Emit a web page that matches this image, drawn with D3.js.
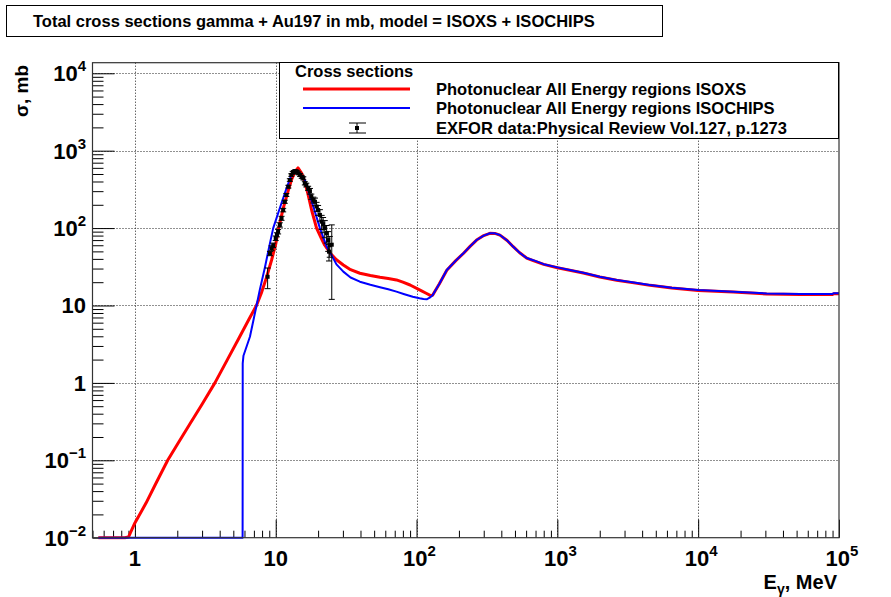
<!DOCTYPE html>
<html>
<head>
<meta charset="utf-8">
<script src="https://cdn.jsdelivr.net/npm/d3@7"></script>
<style>
  html, body { margin: 0; padding: 0; background: #fff; }
  svg { display: block; font-family: "Liberation Sans", Arial, Helvetica, sans-serif; }
</style>
</head>
<body>
<svg id="chart" width="891" height="597"></svg>
<script>
// ISOXS model: photon energy (MeV) and total cross section (mb)
const isoxsEnergy = [0.55, 0.85, 0.9, 1.0, 1.2, 1.4, 1.71, 2.0, 2.5, 3.0, 3.7, 4.5, 5.5, 6.5, 7.3, 7.9, 8.6, 9.35, 10.0, 10.5, 11.3, 12.3, 13.0, 13.7, 14.4, 15.3, 16.1, 16.9, 18.0, 19.5, 21.0, 22.3, 24.5, 27, 30.2, 34, 39.6, 47, 55, 63, 72, 80, 90, 106, 118, 125, 130, 145, 164, 190, 215, 240, 267, 300, 332, 360, 391, 440, 486, 540, 605, 674, 800, 1000, 1250, 1528, 2000, 2637, 3500, 4548, 6500, 10000, 17740, 30620, 52800, 90000, 92000, 100000];
const isoxsSigma  = [0.01, 0.01, 0.0102, 0.0155, 0.028, 0.049, 0.1, 0.16, 0.31, 0.53, 1.0, 1.94, 3.83, 6.8, 10, 14.4, 23, 38.7, 62, 100, 180, 310, 430, 535, 600, 510, 390, 280, 170, 100, 75, 60, 47, 39, 33.4, 29, 26.1, 24.4, 23.1, 22.3, 21.4, 20, 18.4, 15.8, 14.3, 13.5, 13.6, 19, 28.6, 38, 47, 58, 70, 80, 85.5, 85.3, 81, 69, 57.5, 48, 41, 38, 34, 30.8, 28.3, 26.3, 23.3, 21.2, 19.6, 18.2, 16.8, 15.6, 14.9, 14.1, 13.9, 13.9, 14.2, 14.2];

// ISOCHIPS model
const isochipsEnergy = [0.55, 5.82, 5.83, 5.9, 6.56, 7.31, 7.7, 8.38, 9.0, 9.6, 10.5, 11.6, 12.9, 13.4, 14.0, 14.9, 16.1, 17.9, 20.6, 23.0, 24.9, 27, 30.2, 34, 39.6, 47, 55, 63, 72, 82, 94, 105, 112, 118, 124, 130, 145, 164, 190, 215, 240, 267, 300, 332, 360, 391, 440, 486, 540, 605, 674, 800, 1000, 1250, 1528, 2000, 2637, 3500, 4548, 6500, 10000, 17740, 30620, 52800, 90000, 92000, 100000];
const isochipsSigma  = [0.01, 0.01, 1.79, 2.24, 3.95, 10, 15.8, 31, 58, 100, 164, 282, 485, 560, 545, 500, 418, 231, 100, 57.5, 45, 34, 27.4, 23, 20.3, 18.5, 17.2, 16.2, 15.1, 14, 13.0, 12.4, 12.1, 12.0, 12.6, 13.6, 19, 28.8, 38, 47.2, 58, 70.2, 80, 85.7, 85.5, 81.5, 69, 57.5, 48, 41, 38.5, 34.2, 31.1, 28.5, 26.5, 23.5, 21.4, 19.8, 18.4, 17, 15.8, 15.1, 14.3, 14.1, 14.1, 14.4, 14.4];

// EXFOR measurements: energy (MeV), cross section (mb), error (mb)
const exforEnergy = [8.76, 9.1, 9.35, 9.6, 10.0, 10.2, 10.4, 10.7, 11.0, 11.3, 11.6, 11.9, 12.3, 12.6, 12.9, 13.2, 13.5, 13.8, 14.1, 14.5, 14.9, 15.3, 15.7, 16.1, 16.5, 17.0, 17.5, 17.9, 18.5, 19.0, 19.5, 20.0, 20.6, 21.2, 21.7, 22.3, 23.0, 23.6, 24.2, 23.9, 25.0];
const exforSigma  = [23.5, 47, 55, 60, 74, 82, 90, 110, 134, 171, 219, 268, 343, 418, 485, 520, 535, 545, 535, 510, 485, 460, 440, 379, 360, 327, 300, 255, 231, 219, 190, 171, 148, 121, 112, 100, 86, 70, 60, 49.6, 61];
const exforError  = [7, 3, 4, 4, 5, 5, 6, 7, 8, 9, 10, 12, 14, 16, 18, 20, 20, 20, 20, 20, 20, 20, 20, 18, 20, 20, 25, 20, 20, 25, 25, 25, 25, 25, 25, 25, 22, 20, 18, 12, 49];

// Axis decades and their labels (base, exponent)
const xTickValues = [1, 10, 100, 1000, 10000, 100000];
const xTickLabels = [["1", ""], ["10", ""], ["10", "2"], ["10", "3"], ["10", "4"], ["10", "5"]];
const yTickValues = [0.01, 0.1, 1, 10, 100, 1000, 10000];
const yTickLabels = [["10", "\u22122"], ["10", "\u22121"], ["1", ""], ["10", ""], ["10", "2"], ["10", "3"], ["10", "4"]];

const titleText = "Total cross sections gamma + Au197 in mb, model = ISOXS + ISOCHIPS";
const legendHeader = "Cross sections";
const legendLabels = ["Photonuclear All Energy regions ISOXS", "Photonuclear All Energy regions ISOCHIPS", "EXFOR data:Physical Review Vol.127, p.1273"];

const svg = d3.select("#chart");
const frame = { left: 92.5, right: 839, top: 62.7, bottom: 537.7 };

const x = d3.scaleLog().domain([0.5, 1e5]).range([frame.left, frame.right]);
const y = d3.scaleLog().domain([0.01, 1.37e4]).range([frame.bottom, frame.top]);
const yc = v => y(Math.max(v, 0.01));

svg.append("rect").attr("width", 891).attr("height", 597).attr("fill", "#fff");

// title box
svg.append("rect").attr("x", 6.5).attr("y", 5.5).attr("width", 656).attr("height", 31)
  .attr("fill", "#fff").attr("stroke", "#000").attr("stroke-width", 1);
svg.append("text").attr("x", 33).attr("y", 27).attr("font-size", 16.5).attr("font-weight", "bold")
  .text(titleText);

// grid
const grid = svg.append("g").attr("stroke", "#222").attr("stroke-width", 1).attr("stroke-dasharray", "1,2");
grid.selectAll("line.gx").data(xTickValues.filter(v => v < 1e5)).join("line")
  .attr("x1", d => Math.round(x(d)) + 0.5).attr("x2", d => Math.round(x(d)) + 0.5)
  .attr("y1", frame.top).attr("y2", frame.bottom);
grid.selectAll("line.gy").data(yTickValues.filter(v => v > 0.01)).join("line")
  .attr("y1", d => Math.round(y(d)) + 0.5).attr("y2", d => Math.round(y(d)) + 0.5)
  .attr("x1", frame.left).attr("x2", frame.right);

// axes ticks (inside the frame)
const xMinor = x.ticks(60).filter(v => !xTickValues.some(t => Math.abs(t - v) / t < 1e-6));
const yMinor = y.ticks(60).filter(v => !yTickValues.some(t => Math.abs(t - v) / t < 1e-6));

function styleAxis(g) {
  g.select(".domain").remove();
  g.selectAll(".tick line").attr("stroke", "#000").attr("stroke-width", 1);
  g.selectAll(".tick text").remove();
}
svg.append("g").attr("transform", `translate(0,${frame.bottom})`)
  .call(d3.axisBottom(x).tickValues(xTickValues).tickSize(-18).tickFormat(() => "")).call(styleAxis);
svg.append("g").attr("transform", `translate(0,${frame.bottom})`)
  .call(d3.axisBottom(x).tickValues(xMinor).tickSize(-7).tickFormat(() => "")).call(styleAxis);
svg.append("g").attr("transform", `translate(${frame.left},0)`)
  .call(d3.axisLeft(y).tickValues(yTickValues).tickSize(-22).tickFormat(() => "")).call(styleAxis);
svg.append("g").attr("transform", `translate(${frame.left},0)`)
  .call(d3.axisLeft(y).tickValues(yMinor).tickSize(-11).tickFormat(() => "")).call(styleAxis);

// tick labels
const labelFont = 22, supFont = 15;
const xl = svg.append("g").attr("font-size", labelFont).attr("font-weight", "bold").attr("text-anchor", "middle");
xTickValues.forEach((v, i) => {
  const t = xl.append("text").attr("x", x(v) + (xTickLabels[i][1] ? 3 : 0)).attr("y", 566);
  t.append("tspan").text(xTickLabels[i][0]);
  if (xTickLabels[i][1]) t.append("tspan").attr("dy", -10).attr("font-size", supFont).text(xTickLabels[i][1]);
});
const yl = svg.append("g").attr("font-size", labelFont).attr("font-weight", "bold").attr("text-anchor", "end");
yTickValues.forEach((v, i) => {
  const t = yl.append("text").attr("x", 86).attr("y", y(v) + 8);
  t.append("tspan").text(yTickLabels[i][0]);
  if (yTickLabels[i][1]) t.append("tspan").attr("dy", -10).attr("font-size", supFont).text(yTickLabels[i][1]);
});

// axis titles
const xt = svg.append("text").attr("x", 837).attr("y", 589).attr("text-anchor", "end")
  .attr("font-size", 20).attr("font-weight", "bold");
xt.append("tspan").text("E");
xt.append("tspan").attr("dy", 5).attr("font-size", 14).text("\u03b3");
xt.append("tspan").attr("dy", -5).text(", MeV");
svg.append("text").attr("transform", "translate(28,65) rotate(-90)").attr("text-anchor", "end")
  .attr("font-size", 19).attr("font-weight", "bold").text("\u03c3, mb");

// curves
svg.append("clipPath").attr("id", "plotClip").append("rect")
  .attr("x", frame.left).attr("y", frame.top).attr("width", frame.right - frame.left).attr("height", frame.bottom - frame.top + 2);
const plot = svg.append("g").attr("clip-path", "url(#plotClip)");
const line = d3.line().x(d => x(d[0])).y(d => yc(d[1]));

plot.append("path").datum(d3.zip(isoxsEnergy, isoxsSigma)).attr("d", line)
  .attr("fill", "none").attr("stroke", "#ff0000").attr("stroke-width", 3).attr("stroke-linejoin", "round");
plot.append("path").datum(d3.zip(isochipsEnergy, isochipsSigma)).attr("d", line)
  .attr("fill", "none").attr("stroke", "#0000ff").attr("stroke-width", 2).attr("stroke-linejoin", "round");

// EXFOR points with error bars
const pts = d3.range(exforEnergy.length).map(i => ({ e: exforEnergy[i], s: exforSigma[i], err: exforError[i] }));
const eb = plot.append("g").attr("stroke", "#000").attr("stroke-width", 1);
eb.selectAll("line.bar").data(pts).join("line")
  .attr("x1", d => x(d.e)).attr("x2", d => x(d.e))
  .attr("y1", d => yc(d.s + d.err)).attr("y2", d => yc(d.s - d.err));
eb.selectAll("line.top").data(pts).join("line")
  .attr("x1", d => x(d.e) - 3).attr("x2", d => x(d.e) + 3)
  .attr("y1", d => yc(d.s + d.err)).attr("y2", d => yc(d.s + d.err));
eb.selectAll("line.bot").data(pts).join("line")
  .attr("x1", d => x(d.e) - 3).attr("x2", d => x(d.e) + 3)
  .attr("y1", d => yc(d.s - d.err)).attr("y2", d => yc(d.s - d.err));
plot.append("g").selectAll("rect").data(pts).join("rect")
  .attr("x", d => x(d.e) - 2).attr("y", d => yc(d.s) - 2).attr("width", 4).attr("height", 4).attr("fill", "#000");

// frame
svg.append("rect").attr("x", frame.left).attr("y", frame.top)
  .attr("width", frame.right - frame.left).attr("height", frame.bottom - frame.top)
  .attr("fill", "none").attr("stroke", "#333").attr("stroke-width", 1.2);

// legend
const lg = svg.append("g");
lg.append("rect").attr("x", 279.5).attr("y", 62.5).attr("width", 559).attr("height", 76)
  .attr("fill", "#fff").attr("stroke", "#000").attr("stroke-width", 1);
lg.append("text").attr("x", 295).attr("y", 77).attr("font-size", 16.5).attr("font-weight", "bold").text(legendHeader);
const rowY = [89, 108, 128];
lg.append("line").attr("x1", 303).attr("x2", 410).attr("y1", rowY[0]).attr("y2", rowY[0])
  .attr("stroke", "#ff0000").attr("stroke-width", 3);
lg.append("line").attr("x1", 303).attr("x2", 410).attr("y1", rowY[1]).attr("y2", rowY[1])
  .attr("stroke", "#0000ff").attr("stroke-width", 2);
const mk = lg.append("g").attr("stroke", "#000").attr("stroke-width", 1);
mk.append("line").attr("x1", 357).attr("x2", 357).attr("y1", rowY[2] - 5).attr("y2", rowY[2] + 5);
mk.append("line").attr("x1", 349).attr("x2", 366).attr("y1", rowY[2] - 5).attr("y2", rowY[2] - 5);
mk.append("line").attr("x1", 349).attr("x2", 366).attr("y1", rowY[2] + 5).attr("y2", rowY[2] + 5);
lg.append("rect").attr("x", 355).attr("y", rowY[2] - 2).attr("width", 4).attr("height", 4).attr("fill", "#000");
legendLabels.forEach((t, i) => {
  lg.append("text").attr("x", 436).attr("y", rowY[i] + 6).attr("font-size", 16.5).attr("font-weight", "bold").text(t);
});
</script>
</body>
</html>
